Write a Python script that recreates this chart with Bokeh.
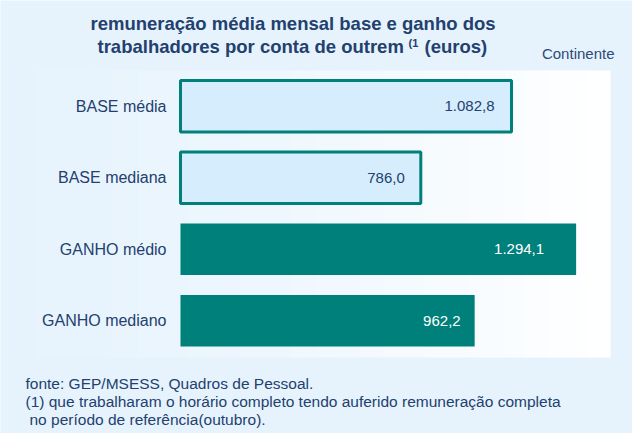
import numpy as np
from bokeh.plotting import figure
from bokeh.models import Range1d, Label, ColumnDataSource
from bokeh.core.properties import value
from bokeh.embed import file_html
from bokeh.resources import INLINE

categories = ["BASE média", "BASE mediana", "GANHO médio", "GANHO mediano"]
values = [1082.8, 786.0, 1294.1, 962.2]
kinds = ["BASE", "BASE", "GANHO", "GANHO"]

title_1 = "remuneração média mensal base e ganho dos"
title_2 = "trabalhadores por conta de outrem"
title_sup = "(1"
title_3 = "(euros)"
region = "Continente"
notes = ["fonte: GEP/MSESS, Quadros de Pessoal.",
         "(1) que trabalharam o horário completo tendo auferido remuneração completa",
         " no período de referência(outubro)."]

FONT = "Liberation Sans"
DARK = "#23406e"
TEAL = "#00807b"
LIGHT = "#d5edfc"
BG = "#e6f3fd"

def fmt_pt(v):
    s = f"{v:,.1f}"
    return s.replace(",", "X").replace(".", ",").replace("X", ".")

# layout (pixels in the picture)
W, H = 632, 433
X0, X1 = 180, 608          # value axis 0 .. XMAX
XMAX = 1400
PY_TOP, PY_BOT = 70, 356   # category band
PXU = (X1 - X0) / XMAX
ROW = (PY_BOT - PY_TOP) / len(categories)

p = figure(width=W, height=H, output_backend="svg", toolbar_location=None,
           x_range=Range1d(-X0 / PXU, (W - X0) / PXU),
           y_range=Range1d(-(H - PY_BOT) / ROW, PY_BOT / ROW),
           min_border=0)
p.border_fill_color = BG
p.background_fill_color = BG
p.outline_line_color = None
p.grid.visible = False
p.axis.visible = False

def dx(px):
    return (px - X0) / PXU

def dy(py):
    return (PY_BOT - py) / ROW

# background panel with horizontal gradient
n = 150
pxs = np.linspace(6, X1 + 1, n + 1)
c0 = np.array([0xe6, 0xf3, 0xfd]); c1 = np.array([0xff, 0xff, 0xff])
cols = []
for i in range(n):
    t = ((i + 0.5) / n) ** 1.3
    c = np.round(c0 + (c1 - c0) * t).astype(int)
    cols.append("#%02x%02x%02x" % tuple(c))
p.quad(left=dx(pxs[:-1]), right=dx(pxs[1:] + 1), bottom=dy(PY_BOT + 1), top=dy(PY_TOP),
       fill_color=cols, line_color=None)

ys = [len(categories) - 0.5 - i for i in range(len(categories))]
fills = [LIGHT if k == "BASE" else TEAL for k in kinds]
lines = [TEAL if k == "BASE" else None for k in kinds]
txtcol = [DARK if k == "BASE" else "white" for k in kinds]
offs = [-17, -16, -32, -14]
src = ColumnDataSource(dict(y=ys, cat=categories, right=values, fill=fills, line=lines,
                            label=[fmt_pt(v) for v in values], tc=txtcol, off=offs))
p.hbar(y="y", right="right", left=0, height=0.72, fill_color="fill",
       line_color="line", line_width=3, source=src)
p.text(x="right", y="y", text="label", x_offset="off", text_align="right",
       text_baseline="middle", text_color="tc", text_font=value(FONT),
       text_font_size="15px", source=src)
p.text(x=0, y="y", text="cat", x_offset=-14, text_align="right",
       text_baseline="middle", text_color=DARK, text_font=value(FONT),
       text_font_size="16px", source=src)

def lab(text, px, py, size, bold=False, align="left", color=DARK):
    if text.startswith(" "):
        px += 4
        text = text.lstrip()
    p.add_layout(Label(x=px, y=H - py, x_units="screen", y_units="screen",
                       text=text, text_font=FONT, text_font_size=size,
                       text_font_style="bold" if bold else "normal",
                       text_color=color, text_align=align, text_baseline="middle"))

lab(title_1, 292.5, 23, "18.5px", bold=True, align="center")
lab(title_2, 97, 46, "18.5px", bold=True)
lab(title_sup, 408, 42, "11px", bold=True)
lab(title_3, 424, 46, "18.5px", bold=True)
lab(region, 614, 53, "15px", align="right", color="#2e4a78")
for i, t in enumerate(notes):
    lab(t, 25, 383 + i * 18, "15.5px", color=DARK)

open("out.html", "w").write(file_html(p, INLINE))
